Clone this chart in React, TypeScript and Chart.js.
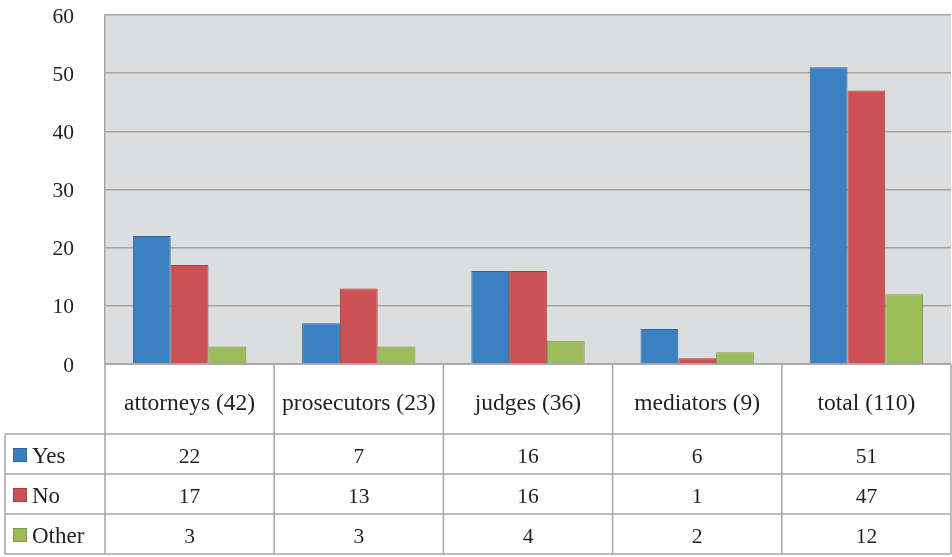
import React, { useEffect, useRef } from "react";
import { Chart, registerables } from "chart.js";

Chart.register(...registerables);

const categories = ["attorneys (42)", "prosecutors (23)", "judges (36)", "mediators (9)", "total (110)"];
const seriesNames = ["Yes", "No", "Other"];
const yesValues = [22, 7, 16, 6, 51];
const noValues = [17, 13, 16, 1, 47];
const otherValues = [3, 3, 4, 2, 12];
const yMin = 0;
const yMax = 60;
const yStep = 10;

const fillColors = ["#3B80C1", "#CD5052", "#9CBC5A"];
const borderColors = ["#2E67A0", "#A43F40", "#7D9A45"];
const seriesValues = [yesValues, noValues, otherValues];

const FONT = "'Liberation Serif', 'Times New Roman', serif";
const TEXT = "#231F20";
const LINE = "#A5A5A5";

const bgPlugin = {
  id: "plotBg",
  beforeDraw(chart: any) {
    const { ctx, chartArea } = chart;
    ctx.save();
    ctx.fillStyle = "#DCDDDF";
    ctx.fillRect(chartArea.left, chartArea.top, chartArea.right - chartArea.left, chartArea.bottom - chartArea.top);
    ctx.restore();
  },
};

const tablePlugin = {
  id: "dataTable",
  afterDraw(chart: any) {
    const { ctx, chartArea, scales } = chart;
    const xs = scales.x;
    const n = categories.length;
    const catW = (chartArea.right - chartArea.left) / n;
    const top = chartArea.bottom;
    const headerH = 70;
    const rowH = 40;
    const left = 5;
    const bottom = top + headerH + rowH * seriesNames.length;
    ctx.save();
    ctx.strokeStyle = LINE;
    ctx.lineWidth = 1.5;
    ctx.beginPath();
    ctx.moveTo(chartArea.left, top);
    ctx.lineTo(chartArea.right, top);
    for (let r = 0; r <= seriesNames.length; r++) {
      const y = top + headerH + r * rowH;
      ctx.moveTo(left, y);
      ctx.lineTo(chartArea.right, y);
    }
    for (let i = 0; i <= n; i++) {
      const x = i === n ? chartArea.right : xs.getPixelForValue(i) - catW / 2;
      ctx.moveTo(x, top);
      ctx.lineTo(x, bottom);
    }
    ctx.moveTo(left, top + headerH);
    ctx.lineTo(left, bottom);
    ctx.stroke();

    ctx.fillStyle = TEXT;
    ctx.font = `23.5px ${FONT}`;
    ctx.textAlign = "center";
    ctx.textBaseline = "middle";
    categories.forEach((c, i) => {
      ctx.fillText(c, xs.getPixelForValue(i), top + headerH / 2 + 5);
    });
    seriesNames.forEach((s, r) => {
      const yc = top + headerH + r * rowH + rowH / 2 + 1;
      ctx.fillStyle = fillColors[r];
      ctx.fillRect(13, yc - 7, 14, 14);
      ctx.strokeStyle = borderColors[r];
      ctx.lineWidth = 1;
      ctx.strokeRect(13.5, yc - 6.5, 13, 13);
      ctx.fillStyle = TEXT;
      ctx.textAlign = "left";
      ctx.font = `23px ${FONT}`;
      ctx.fillText(s, 32, yc + 2);
      ctx.textAlign = "center";
      ctx.font = `21.5px ${FONT}`;
      seriesValues[r].forEach((v, i) => {
        ctx.fillText(String(v), xs.getPixelForValue(i), yc + 2);
      });
    });
    ctx.restore();
  },
};

export default function App() {
  const ref = useRef<HTMLCanvasElement | null>(null);
  useEffect(() => {
    if (!ref.current) return;
    const chart = new Chart(ref.current, {
      type: "bar",
      data: {
        labels: categories,
        datasets: seriesNames.map((name, i) => ({
          label: name,
          data: seriesValues[i],
          backgroundColor: fillColors[i],
          borderColor: borderColors[i],
          borderWidth: 1,
          categoryPercentage: 0.67,
          barPercentage: 1,
        })),
      },
      options: {
        responsive: false,
        animation: false,
        layout: { padding: { top: 15, bottom: 193, left: 0, right: 1 } },
        plugins: { legend: { display: false }, tooltip: { enabled: false }, title: { display: false } },
        scales: {
          x: { display: false },
          y: {
            min: yMin,
            max: yMax,
            ticks: { stepSize: yStep, padding: 31, labelOffset: 2, color: TEXT, font: { family: FONT, size: 21.5 } },
            grid: { color: LINE, lineWidth: 1.5, drawTicks: false },
            border: { display: true, color: LINE, width: 1.5 },
            afterFit: (scale: any) => {
              scale.width = 105;
              scale.paddingTop = 0;
              scale.paddingBottom = 0;
            },
          },
        },
      },
      plugins: [bgPlugin, tablePlugin],
    });
    return () => chart.destroy();
  }, []);
  return (
    <div style={{ position: "absolute", left: 0, top: 0, width: 952, height: 557, background: "#fff" }}>
      <canvas ref={ref} width={952} height={557} />
    </div>
  );
}
